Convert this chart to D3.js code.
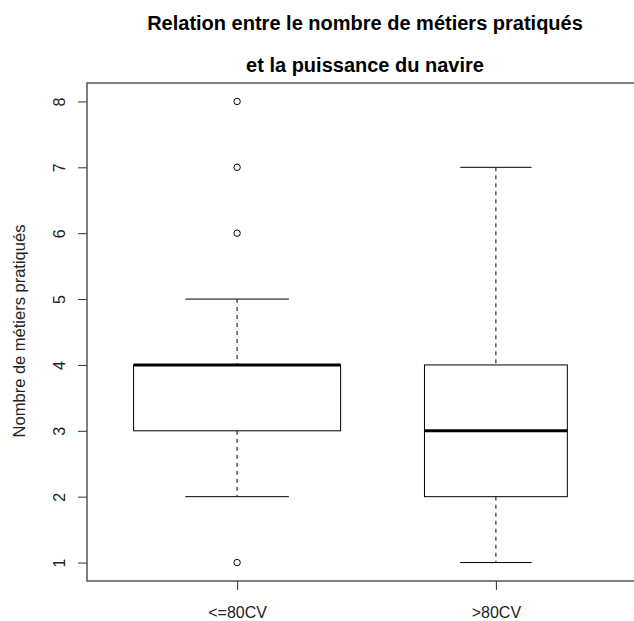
<!DOCTYPE html>
<html>
<head>
<meta charset="utf-8">
<script src="https://cdn.jsdelivr.net/npm/d3@7"></script>
<style>
  body { margin: 0; background: #fff; }
  text { font-family: "Liberation Sans", Arial, sans-serif; }
</style>
</head>
<body>
<svg id="chart" width="634" height="621"></svg>
<script>
// Data
const groups = ["<=80CV", ">80CV"];
const lowerWhisker = [2, 1];
const q1 = [3, 2];
const median = [4, 3];
const q3 = [4, 4];
const upperWhisker = [5, 7];
const outliers = [[1, 6, 7, 8], []];
// varwidth: relative box widths (sqrt of group size)
const relWidths = [1, 0.69];
const yTicks = [1, 2, 3, 4, 5, 6, 7, 8];

const titleLines = ["Relation entre le nombre de métiers pratiqués", "et la puissance du navire"];
const yLabel = "Nombre de métiers pratiqués";

// Plot region (R style)
const plotLeft = 87, plotRight = 646, plotTop = 83, plotBottom = 581;

const svg = d3.select("#chart");

// x: positions 1..n, domain 0.5..n+0.5 extended 4%
const xScale = d3.scaleLinear()
                 .domain([0.42, 2.58])
                 .range([plotLeft, plotRight]);
const yScale = d3.scaleLinear()
                 .domain([0.72, 8.28])
                 .range([plotBottom, plotTop]);

// Boxes
groups.forEach(function(g, i) {
  const cx = i + 1;
  const boxHalf = 0.4 * relWidths[i];
  const capHalf = boxHalf / 2;
  const grp = svg.append("g");
  // whiskers (dashed)
  grp.append("line")
     .attr("x1", xScale(cx)).attr("x2", xScale(cx))
     .attr("y1", yScale(upperWhisker[i])).attr("y2", yScale(q3[i]))
     .attr("stroke", "#000").attr("stroke-dasharray", "4,4");
  grp.append("line")
     .attr("x1", xScale(cx)).attr("x2", xScale(cx))
     .attr("y1", yScale(q1[i])).attr("y2", yScale(lowerWhisker[i]))
     .attr("stroke", "#000").attr("stroke-dasharray", "4,4");
  // caps
  [upperWhisker[i], lowerWhisker[i]].forEach(function(v) {
    grp.append("line")
       .attr("x1", xScale(cx - capHalf)).attr("x2", xScale(cx + capHalf))
       .attr("y1", yScale(v)).attr("y2", yScale(v))
       .attr("stroke", "#000");
  });
  // box
  grp.append("rect")
     .attr("x", xScale(cx - boxHalf))
     .attr("y", yScale(q3[i]))
     .attr("width", xScale(cx + boxHalf) - xScale(cx - boxHalf))
     .attr("height", yScale(q1[i]) - yScale(q3[i]))
     .attr("fill", "#fff").attr("stroke", "#000");
  // median
  grp.append("line")
     .attr("x1", xScale(cx - boxHalf)).attr("x2", xScale(cx + boxHalf))
     .attr("y1", yScale(median[i])).attr("y2", yScale(median[i]))
     .attr("stroke", "#000").attr("stroke-width", 3);
  // outliers
  grp.selectAll("circle")
     .data(outliers[i])
     .join("circle")
       .attr("cx", xScale(cx))
       .attr("cy", function(d) { return yScale(d); })
       .attr("r", 3.2)
       .attr("fill", "none")
       .attr("stroke", "#000");
});

// Frame
svg.append("rect")
   .attr("x", plotLeft).attr("y", plotTop)
   .attr("width", plotRight - plotLeft).attr("height", plotBottom - plotTop)
   .attr("fill", "none").attr("stroke", "#555").attr("stroke-width", 1.5);

// Y axis
const yAxis = d3.axisLeft(yScale).tickValues(yTicks).tickSize(9).tickPadding(0).tickFormat(d3.format("d"));
const yG = svg.append("g").attr("transform", `translate(${plotLeft},0)`).call(yAxis);
yG.select(".domain").remove();
yG.selectAll(".tick line").attr("stroke", "#333");
yG.selectAll(".tick text")
  .attr("transform", "rotate(-90)")
  .attr("x", 0).attr("y", -22)
  .attr("dy", "0")
  .style("text-anchor", "middle")
  .style("font-size", "16px")
  .attr("fill", "#222");

// X axis
const xAxis = d3.axisBottom(xScale).tickValues([1, 2]).tickSize(9)
                .tickFormat(function(d) { return groups[d - 1]; });
const xG = svg.append("g").attr("transform", `translate(0,${plotBottom})`).call(xAxis);
xG.select(".domain").remove();
xG.selectAll(".tick line").attr("stroke", "#333");
xG.selectAll(".tick text")
  .attr("y", 37).attr("dy", "0")
  .style("font-size", "16px").attr("fill", "#222");

// Title
svg.selectAll(".title")
   .data(titleLines)
   .join("text")
     .attr("class", "title")
     .attr("x", 365)
     .attr("y", function(d, i) { return 30 + i * 42; })
     .style("text-anchor", "middle")
     .style("font-size", "20px")
     .style("font-weight", "bold")
     .text(function(d) { return d; });

// Y label
svg.append("text")
   .attr("transform", "rotate(-90)")
   .attr("x", -331)
   .attr("y", 25)
   .style("text-anchor", "middle")
   .style("font-size", "16.5px")
   .attr("fill", "#222")
   .text(yLabel);
</script>
</body>
</html>
